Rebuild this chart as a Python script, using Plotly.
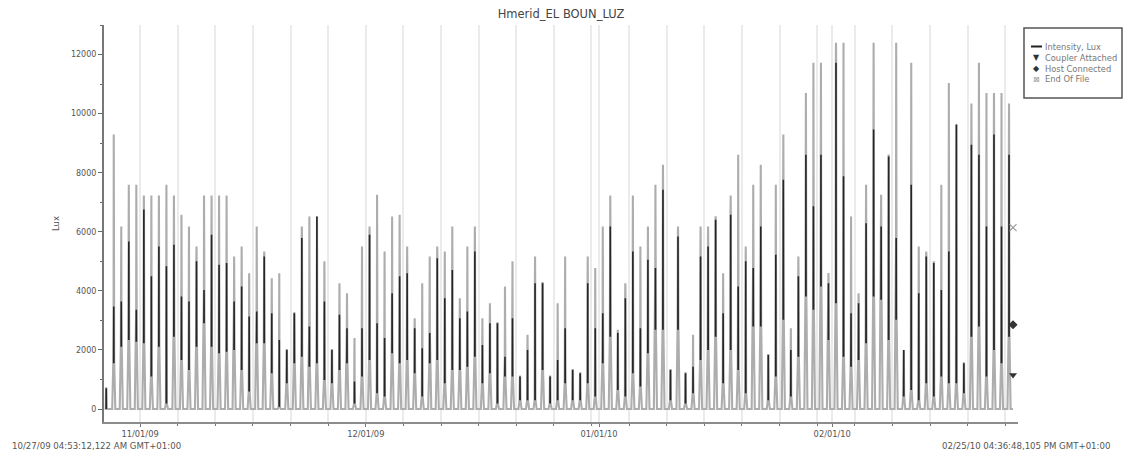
import pandas as pd
import plotly.graph_objects as go

# ---------------- data ----------------
first_day = "2009-10-27"
log_start = "2009-10-27 04:53:12.122"
log_end = "2010-02-25 16:36:48.105"
event_time = "2010-02-25 00:45"

# daily maximum intensity (lux)
peak_lux = [700, 9290, 6180, 7590, 7590, 7230, 7230, 7230, 7590, 7230,
            6580, 6180, 5500, 7230, 7230, 7230, 7230, 5160, 5500, 4600,
            6180, 5330, 4430, 4600, 2000, 3240, 6180, 6520, 6520, 5000,
            2000, 4260, 3920, 2400, 5500, 6180, 7250, 5330, 6520, 6580,
            5500, 3070, 4260, 5160, 5500, 5330, 6180, 3750, 5500, 6180,
            3070, 3580, 2900, 4150, 5000, 1100, 2510, 5160, 4260, 1100,
            3580, 5160, 1320, 1210, 5160, 4770, 6180, 7230, 2680, 4260,
            7230, 5500, 6180, 7590, 8270, 1320, 6180, 1210, 2510, 6180,
            6180, 6520, 4600, 7230, 8610, 5500, 7590, 8270, 1830, 7590,
            9290, 2730, 5160, 10700, 11720, 11720, 4600, 12400, 12400, 6520,
            3920, 7590, 12400, 7250, 8610, 12400, 2000, 11720, 5500, 5330,
            5000, 7590, 11040, 9630, 1550, 10340, 11720, 10700, 10700, 10700,
            10340]

# upper end of the dense midday readings (lux)
core_high_lux = [700, 3470, 3640, 5670, 3360, 6750, 4490, 5500, 4830, 5560,
                 3810, 3640, 5000, 4030, 5900, 4880, 4940, 3640, 4150, 3130,
                 3300, 5160, 3240, 2340, 2000, 3240, 5790, 2790, 6520, 3640,
                 2000, 3190, 2730, 930, 2730, 5900, 2900, 2400, 3920, 4490,
                 4600, 2730, 2060, 2570, 5100, 3750, 4710, 3070, 3300, 5330,
                 2170, 2900, 2900, 1770, 3070, 1100, 2000, 4260, 4260, 1100,
                 1660, 2730, 1320, 1210, 4260, 2730, 3240, 6180, 2570, 3750,
                 5330, 2730, 5050, 4770, 7420, 1320, 5840, 1210, 1430, 5160,
                 5500, 6410, 3240, 6580, 4150, 5000, 4770, 6180, 1830, 5220,
                 7760, 2000, 4490, 8610, 6860, 8610, 4260, 11720, 7880, 3240,
                 3580, 6290, 9460, 6180, 8550, 5790, 2000, 7590, 3920, 5160,
                 4940, 4030, 5330, 9630, 1550, 8950, 8610, 6180, 9290, 6180,
                 8610]

# lower end of the dense midday readings (lux)
core_low_lux = [0, 1550, 2110, 2340, 2280, 2230, 1100, 2110, 190, 2450,
                1660, 1320, 2110, 2900, 2110, 1890, 1940, 2000, 1320, 590,
                2230, 2230, 1210, 80, 870, 1550, 1770, 1430, 1550, 980,
                870, 1320, 1550, 190, 1100, 1660, 530, 420, 1890, 1550,
                1660, 1210, 420, 1550, 1660, 870, 1320, 1320, 1430, 1770,
                870, 1210, 190, 1100, 1100, 300, 300, 300, 1320, 190,
                300, 870, 300, 300, 870, 420, 1550, 2450, 640, 420,
                1210, 760, 1890, 2680, 2680, 300, 2680, 190, 530, 1660,
                2000, 2450, 870, 2000, 1320, 530, 2790, 2790, 300, 1100,
                3020, 420, 1770, 3810, 3360, 4150, 2340, 3580, 1770, 1430,
                1660, 2230, 3810, 3700, 2340, 3020, 420, 640, 300, 870,
                420, 1100, 870, 870, 530, 2450, 2790, 1100, 2000, 1550,
                2450]

# event markers
coupler_attached_lux = 1150
host_connected_lux = 2850
end_of_file_lux = 6140

month_ticks = ["2009-11-01", "2009-12-01", "2010-01-01", "2010-02-01"]
month_labels = ["11/01/09", "12/01/09", "01/01/10", "02/01/10"]
y_ticks = [0, 2000, 4000, 6000, 8000, 10000, 12000]
legend_labels = ["Intensity, Lux", "Coupler Attached", "Host Connected", "End Of File"]
legend_glyphs = [None, "\u25BC", "\u25C6", "\u22A0"]

# reading times within each day (hours)
reading_hours = [7.0, 10.5, 11.5, 12.0, 12.5, 13.5, 17.0]
core_hours = [11.67, 12.0, 12.33]

# ---------------- build series ----------------
day0 = pd.Timestamp(first_day)
gx, gy, dx, dy = [], [], [], []
for i, (p, ch, cl) in enumerate(zip(peak_lux, core_high_lux, core_low_lux)):
    d = day0 + pd.Timedelta(days=i)
    vals = [0, cl, ch, p, ch, cl, 0]
    for h, v in zip(reading_hours, vals):
        gx.append(d + pd.Timedelta(hours=h))
        gy.append(v)
    for h, v in zip(core_hours, [cl, ch, cl]):
        dx.append(d + pd.Timedelta(hours=h))
        dy.append(v)
    dx.append(None)
    dy.append(None)
gx.append(pd.Timestamp(event_time))
gy.append(0)

fig = go.Figure()
fig.add_trace(go.Scatter(x=gx, y=gy, mode="lines",
                         line=dict(color="#adadad", width=2.1),
                         showlegend=False, hoverinfo="skip"))
fig.add_trace(go.Scatter(x=dx, y=dy, mode="lines", name="Intensity, Lux",
                         line=dict(color="#262626", width=1.6),
                         connectgaps=False))
fig.add_trace(go.Scatter(x=[event_time], y=[coupler_attached_lux], mode="markers",
                         name="Coupler Attached",
                         marker=dict(symbol="triangle-down", size=7, color="#333333")))
fig.add_trace(go.Scatter(x=[event_time], y=[host_connected_lux], mode="markers",
                         name="Host Connected",
                         marker=dict(symbol="diamond", size=7, color="#333333")))
fig.add_trace(go.Scatter(x=[event_time], y=[end_of_file_lux], mode="markers",
                         name="End Of File",
                         marker=dict(symbol="x-thin-open", size=7,
                                     line=dict(color="#999999", width=1.2),
                                     color="#999999")))

# pixel helpers for the plot area (l=104, r=1018, t=25, b=422)
L, R, T, B = 104, 1018, 25, 422
def px_x(p):
    return (p - L) / (R - L)
def px_y(p):
    return (B - p) / (B - T)

font_family = "'DejaVu Sans', Verdana, sans-serif"
fig.update_layout(
    width=1125, height=453,
    margin=dict(l=L, r=1125 - R, t=T, b=453 - B, autoexpand=False),
    paper_bgcolor="white", plot_bgcolor="white",
    font=dict(family=font_family, size=8, color="#555555"),
    title=dict(text="Hmerid_EL BOUN_LUZ", x=0.5, xref="paper", xanchor="center",
               y=1 - 14 / 453, yanchor="middle",
               font=dict(size=11.5, color="#444444")),
    showlegend=False,
    xaxis=dict(type="date", range=[log_start, log_end],
               tickvals=month_ticks, ticktext=month_labels,
               ticks="outside", ticklen=3, tickcolor="#777777",
               showgrid=True, gridcolor="#ebebeb", gridwidth=2,
               showline=True, linecolor="#8c8c8c", linewidth=2,
               zeroline=False, tickfont=dict(size=8.3, color="#555555"),
               minor=dict(tick0="2009-11-01", dtick=5 * 86400000,
                          ticks="outside", ticklen=2, tickcolor="#777777",
                          showgrid=True, gridcolor="#ebebeb", gridwidth=2)),
    yaxis=dict(range=[-440, 13000], tickvals=y_ticks, tickformat="d",
               ticks="outside", ticklen=4, tickcolor="#666666",
               showgrid=False, showline=True, linecolor="#777777", linewidth=2,
               zeroline=False, tickfont=dict(size=8, color="#555555"),
               title=dict(text="Lux", standoff=10, font=dict(size=8.5, color="#555555")),
               minor=dict(dtick=1000, ticks="outside", ticklen=2, tickcolor="#666666")),
)

# legend drawn as a boxed key at the top right
fig.add_shape(type="rect", xref="paper", yref="paper",
              x0=px_x(1024), x1=px_x(1122), y0=px_y(98), y1=px_y(28),
              line=dict(color="#555555", width=1.5), fillcolor="white")
row_y = [46.5, 57.5, 68.5, 79.5]
fig.add_shape(type="line", xref="paper", yref="paper",
              x0=px_x(1031), x1=px_x(1042), y0=px_y(row_y[0]), y1=px_y(row_y[0]),
              line=dict(color="#222222", width=2))
for lab, glyph, ry in zip(legend_labels, legend_glyphs, row_y):
    if glyph is not None:
        fig.add_annotation(text=glyph, xref="paper", yref="paper",
                           x=px_x(1036), y=px_y(ry), xanchor="center", yanchor="middle",
                           showarrow=False,
                           font=dict(size=8, color="#333333" if glyph != "\u22A0" else "#999999"))
    fig.add_annotation(text=lab, xref="paper", yref="paper",
                       x=px_x(1043), y=px_y(ry), xanchor="left", yanchor="middle",
                       showarrow=False, font=dict(size=8.3, color="#777777"))

fig.add_annotation(text="10/27/09 04:53:12,122 AM GMT+01:00", xref="paper", yref="paper",
                   x=px_x(10), y=px_y(445.5), xanchor="left", yanchor="middle",
                   showarrow=False, font=dict(size=8.6, color="#555555"))
fig.add_annotation(text="02/25/10 04:36:48,105 PM GMT+01:00", xref="paper", yref="paper",
                   x=px_x(1112), y=px_y(445.5), xanchor="right", yanchor="middle",
                   showarrow=False, font=dict(size=8.6, color="#555555"))

fig.write_html("out.html")
